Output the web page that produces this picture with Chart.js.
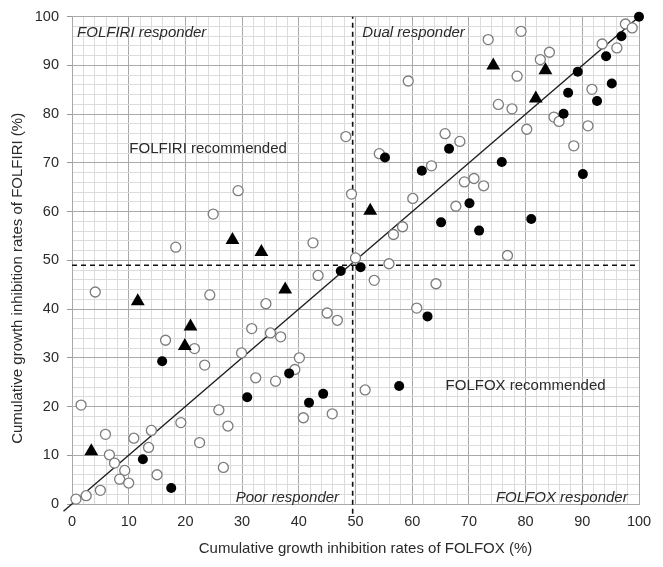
<!DOCTYPE html>
<html>
<head>
<meta charset="utf-8">
<script src="https://cdn.jsdelivr.net/npm/chart.js@4.4.1/dist/chart.umd.min.js"></script>
<style>
  html, body { margin: 0; padding: 0; background: #fff; }
  #wrap { width: 663px; height: 567px; }
</style>
</head>
<body>
<div id="wrap"><canvas id="chart" width="663" height="567"></canvas></div>
<script>
// ---- data ----
const openX = [0.7, 2.5, 5.0, 1.6, 4.1, 24.3, 16.5, 21.6, 23.4, 31.7, 29.9, 32.4, 25.9, 27.5, 26.7, 22.5,
  19.2, 14.0, 10.9, 5.9, 6.6, 7.5, 13.5, 9.3, 8.4, 10.0, 15.0, 18.3, 24.9, 29.3, 42.5, 48.3, 49.3, 50.0,
  55.9, 43.4, 53.3, 64.2, 34.2, 45.0, 46.8, 60.8, 35.0, 36.8, 40.1, 39.3, 35.9, 45.9, 40.8, 51.7, 59.3,
  54.2, 65.8, 63.4, 60.1, 58.3, 56.7, 97.6, 98.8, 93.5, 96.1, 73.4, 79.2, 82.6, 84.2, 78.5, 91.7, 75.2,
  77.6, 85.0, 85.9, 80.2, 91.0, 88.5, 68.4, 69.2, 70.9, 72.6, 67.7, 76.8];
const openY = [1.0, 1.7, 2.8, 20.3, 43.5, 42.9, 33.6, 31.9, 28.5, 36.0, 31.0, 25.9, 19.3, 16.0, 7.5, 12.6,
  16.7, 15.1, 13.5, 14.3, 10.1, 8.4, 11.6, 6.9, 5.1, 4.3, 6.0, 52.7, 59.5, 64.3, 53.6, 75.4, 63.6, 50.5,
  49.3, 46.9, 45.9, 45.2, 41.1, 39.2, 37.7, 40.2, 35.1, 34.3, 30.0, 27.6, 25.2, 18.5, 17.7, 23.4, 86.8,
  71.9, 76.0, 69.4, 62.7, 56.9, 55.3, 98.5, 97.7, 94.4, 93.6, 95.3, 97.0, 91.2, 92.7, 87.8, 85.1, 82.0,
  81.1, 79.4, 78.5, 76.9, 77.6, 73.5, 74.4, 66.1, 66.8, 65.3, 61.1, 51.0];

const filledX = [15.9, 30.9, 12.5, 17.5, 47.4, 50.9, 62.7, 38.3, 44.3, 41.8, 57.7, 55.2, 61.7, 66.5, 65.1,
  100, 96.9, 94.2, 95.2, 89.2, 87.5, 92.6, 86.7, 90.1, 75.8, 70.1, 71.8, 81.0];
const filledY = [29.3, 21.9, 9.2, 3.3, 47.8, 48.6, 38.5, 26.8, 22.6, 20.8, 24.2, 71.1, 68.4, 72.9, 57.8,
  100, 96.0, 91.9, 86.3, 88.7, 84.4, 82.7, 80.1, 67.7, 70.2, 61.7, 56.1, 58.5];

const triX = [3.4, 11.6, 20.9, 19.9, 28.3, 33.4, 37.6, 52.6, 74.3, 83.5, 81.8];
const triY = [10.8, 41.6, 36.4, 32.4, 54.2, 51.7, 44.0, 60.2, 90.0, 89.0, 83.2];

const diagX = [-1.5, 100];
const diagY = [-1.5, 100];
const cutX = 49.5;
const cutY = 49;

const tickLabels = [0, 10, 20, 30, 40, 50, 60, 70, 80, 90, 100];

const xTitle = 'Cumulative growth inhibition rates of FOLFOX (%)';
const yTitle = 'Cumulative growth inhibition rates of FOLFIRI (%)';

// quadrant notes: text, x, y, align, italic
const notes = [
  ['FOLFIRI responder', 0.9, 96.6, 'left', true],
  ['Dual responder', 51.2, 96.6, 'left', true],
  ['FOLFIRI recommended', 24, 72.9, 'center', false],
  ['FOLFOX recommended', 80, 24.2, 'center', false],
  ['Poor responder', 47.1, 1.3, 'right', true],
  ['FOLFOX responder', 98, 1.3, 'right', true]
];

const FONT = '"Liberation Sans", Arial, sans-serif';
const pts = (xs, ys) => xs.map((x, i) => ({ x: x, y: ys[i] }));

const isMajor = v => Math.round(v) % 10 === 0;

const notesPlugin = {
  id: 'notes',
  afterDatasetsDraw(chart) {
    const { ctx, scales: { x, y }, chartArea } = chart;
    ctx.save();
    ctx.fillStyle = '#2a2a2a';
    ctx.textBaseline = 'middle';
    notes.forEach(n => {
      ctx.font = (n[4] ? 'italic ' : '') + '15px ' + FONT;
      ctx.textAlign = n[3];
      ctx.fillText(n[0], x.getPixelForValue(n[1]), y.getPixelForValue(n[2]));
    });
    // axis titles
    ctx.font = '15px ' + FONT;
    ctx.textAlign = 'center';
    ctx.fillText(xTitle, (chartArea.left + chartArea.right) / 2 + 10, chartArea.bottom + 45);
    ctx.translate(18, (chartArea.top + chartArea.bottom) / 2 + 18);
    ctx.rotate(-Math.PI / 2);
    ctx.fillText(yTitle, 0, 0);
    ctx.restore();
  }
};

const gridOpts = {
  color: c => isMajor(c.tick.value) ? '#a9a9a9' : '#dcdcdc',
  lineWidth: 1,
  tickColor: c => isMajor(c.tick.value) ? '#999' : 'rgba(0,0,0,0)',
  tickLength: 5
};

new Chart(document.getElementById('chart'), {
  type: 'scatter',
  data: {
    datasets: [
      { data: pts(triX, triY), pointStyle: 'triangle', pointRadius: 8, backgroundColor: '#000', borderColor: '#000', borderWidth: 0, clip: false },
      { data: pts(filledX, filledY), pointStyle: 'circle', pointRadius: 5, backgroundColor: '#000', borderColor: '#000', borderWidth: 0, clip: false },
      { data: pts(openX, openY), pointStyle: 'circle', pointRadius: 5, backgroundColor: '#fff', borderColor: '#7c7c7c', borderWidth: 1.3, clip: false },
      { data: pts(diagX, diagY), showLine: true, pointRadius: 0, borderColor: '#1e1e1e', borderWidth: 1.4, clip: false },
      { data: [{ x: cutX, y: -2 }, { x: cutX, y: 100 }], showLine: true, pointRadius: 0, borderColor: '#111', borderWidth: 1.6, borderDash: [5, 4], clip: false },
      { data: [{ x: 0, y: cutY }, { x: 100, y: cutY }], showLine: true, pointRadius: 0, borderColor: '#111', borderWidth: 1.6, borderDash: [5, 4], clip: false }
    ]
  },
  options: {
    responsive: false,
    animation: false,
    layout: { padding: { left: 0, top: 14, right: 24, bottom: 0 } },
    plugins: { legend: { display: false }, tooltip: { enabled: false } },
    scales: {
      x: {
        type: 'linear', min: 0, max: 100,
        afterFit: s => { s.height = 63; },
        border: { display: true, color: '#a9a9a9' },
        grid: Object.assign({}, gridOpts, { drawTicks: false }),
        ticks: {
          stepSize: 2, autoSkip: false, maxRotation: 0, padding: 9,
          color: '#2a2a2a', font: { family: FONT, size: 14.5 },
          callback: v => tickLabels.includes(Math.round(v)) ? String(Math.round(v)) : ''
        }
      },
      y: {
        type: 'linear', min: 0, max: 100,
        afterFit: s => { s.width = 72; },
        border: { display: true, color: '#a9a9a9' },
        grid: gridOpts,
        ticks: {
          stepSize: 2, autoSkip: false, padding: 8,
          color: '#2a2a2a', font: { family: FONT, size: 14.5 },
          callback: v => tickLabels.includes(Math.round(v)) ? String(Math.round(v)) : ''
        }
      }
    }
  },
  plugins: [notesPlugin]
});
</script>
</body>
</html>
